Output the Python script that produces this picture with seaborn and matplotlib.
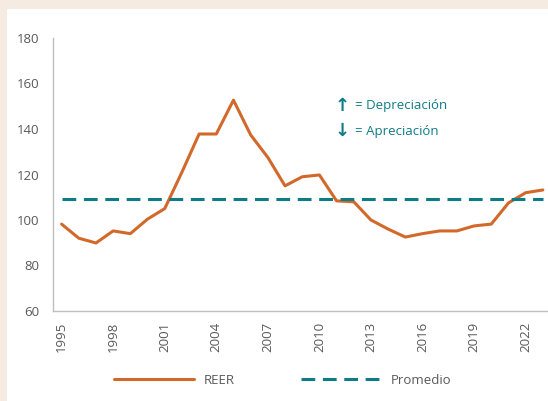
import matplotlib
matplotlib.use("Agg")
import matplotlib.pyplot as plt
import seaborn as sns
import pandas as pd

years = list(range(1995, 2024))
reer = [98.2, 92.0, 89.9, 95.2, 94.0, 100.4, 105.0, 121.0, 137.8, 137.8,
        152.7, 137.4, 127.5, 115.0, 119.0, 119.8, 108.4, 108.0, 100.0, 96.0,
        92.5, 94.0, 95.2, 95.2, 97.4, 98.2, 107.5, 112.0, 113.2]
promedio_value = 109.2
promedio = [promedio_value] * len(years)
tick_years = list(range(1995, 2023, 3))
y_ticks = [60, 80, 100, 120, 140, 160, 180]

orange = "#D2692B"
teal = "#0E7C86"
beige = "#F6EBE0"
grey = "#595959"

sns.set_theme(style="white")
plt.rcParams['font.family'] = ['Open Sans', 'DejaVu Sans']

fig = plt.figure(figsize=(5.48, 4.01), dpi=100)
fig.patch.set_facecolor(beige)
bg = fig.add_axes([7/548, 0, 1 - 7/548, 1 - 9/401], zorder=-10)
bg.set_facecolor("white")
bg.set_xticks([]); bg.set_yticks([])
for s in bg.spines.values():
    s.set_visible(False)

ax = fig.add_axes([53/548, 1 - 311/401, 1 - 53/548, (311 - 38)/401], zorder=1)
ax.patch.set_alpha(0)

df = pd.DataFrame({"year": years, "REER": reer, "Promedio": promedio})
sns.lineplot(data=df, x="year", y="REER", ax=ax, color=orange, linewidth=2.2, label="REER")
sns.lineplot(data=df, x="year", y="Promedio", ax=ax, color=teal, linewidth=2.2,
             label="Promedio")
ax.lines[1].set_linestyle((0, (4.5, 2.5)))

ax.set_xlim(1994.5, 2023.3)
ax.set_ylim(60, 180)
ax.set_xticks(tick_years)
ax.set_xticklabels([str(y) for y in tick_years], rotation=90)
ax.set_yticks(y_ticks)
ax.tick_params(axis="y", length=0, labelsize=9.5, colors=grey, pad=10)
ax.tick_params(axis="x", length=0, labelsize=9.5, colors=grey, pad=8)
ax.set_xlabel("")
ax.set_ylabel("")
for s in ["top", "right"]:
    ax.spines[s].set_visible(False)
for s in ["left", "bottom"]:
    ax.spines[s].set_color("#BFBFBF")
    ax.spines[s].set_linewidth(1.0)

ax.get_legend().remove()
handles, labels = ax.get_legend_handles_labels()
handles[1].set_linestyle((0, (4.5, 2.5)))
fig.legend(handles, labels, loc="center", bbox_to_anchor=(283/548, 1 - 380/401), ncol=2,
           frameon=False, fontsize=9.5, handlelength=6.0, columnspacing=5.0,
           handletextpad=0.8, labelcolor=grey)

for ytxt, arrow, label in [(106, "↑", "= Depreciación"), (131, "↓", "= Apreciación")]:
    fig.text(342/548, 1 - ytxt/401, arrow, color=teal, fontsize=13, fontweight="bold",
             va="center", ha="center", family=['DejaVu Sans'])
    fig.text(355/548, 1 - ytxt/401, label, color=teal, fontsize=9.5,
             va="center", ha="left", family=['Open Sans', 'DejaVu Sans'])

fig.savefig("out.png", dpi=100, facecolor=fig.get_facecolor())
